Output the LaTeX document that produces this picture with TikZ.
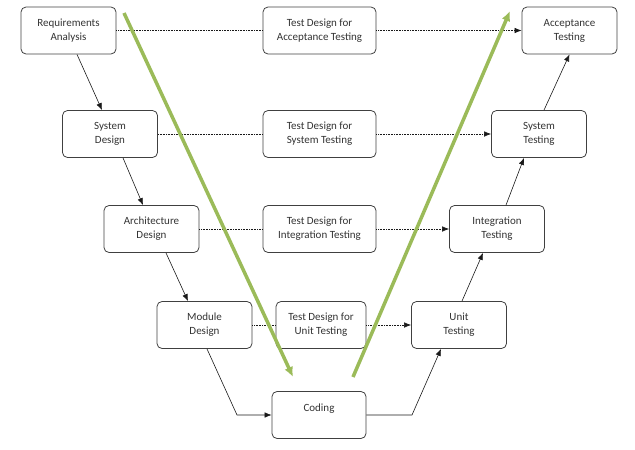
\documentclass[tikz,border=0pt]{standalone}
\usepackage{fontspec}
\setmainfont{Carlito}
\usepackage{xcolor}
\usetikzlibrary{positioning, arrows.meta}

\definecolor{vgreen}{RGB}{155,187,89}
\definecolor{boxline}{RGB}{64,64,64}

\tikzset{
    phase/.style={draw=boxline, rounded corners=5pt, thick, minimum width=95pt,
        minimum height=47pt, align=center, text=black!80,
        font=\fontsize{11}{14}\selectfont},
    testdesign/.style={phase, minimum width=113pt},
    link/.style={-{Latex[length=7pt,width=5.5pt]}, draw=black!90, semithick},
    trace/.style={densely dotted, draw=black!90, semithick},
    flow/.style={-{Latex[length=10pt,width=9pt]}, line width=3.5pt, vgreen}
}

\begin{document}
\begin{tikzpicture}[>=latex, x=1pt, y=-1pt]
    \useasboundingbox (0,0) rectangle (635,450);
    % Left side of the V
    \node[phase] (req) at (68.5,30.5) {Requirements\\Analysis};
    \node[phase] (sys) at (110,134) {System\\Design};
    \node[phase] (arch) at (151.5,229) {Architecture\\Design};
    \node[phase] (mod) at (204.5,325) {Module\\Design};
    % Bottom
    \node[phase, minimum width=94pt] (cod) at (319,415) {Coding\\\mbox{}};
    % Right side of the V
    \node[phase] (ut) at (459,325) {Unit\\Testing};
    \node[phase] (it) at (497,229) {Integration\\Testing};
    \node[phase] (st) at (539,134) {System\\Testing};
    \node[phase] (acc) at (569.5,30.5) {Acceptance\\Testing};
    % Test designs
    \node[testdesign] (tda) at (319.5,30.5) {Test Design for\\Acceptance Testing};
    \node[testdesign] (tds) at (319.5,134) {Test Design for\\System Testing};
    \node[testdesign] (tdi) at (319.5,229) {Test Design for\\Integration Testing};
    \node[phase, minimum width=90pt] (tdu) at (321,325) {Test Design for\\Unit Testing};
    % Solid links
    \draw[link] ([xshift=8.5pt]req.south) -- ([xshift=-8pt]sys.north);
    \draw[link] ([xshift=13pt]sys.south) -- ([xshift=-8.5pt]arch.north);
    \draw[link] ([xshift=14.5pt]arch.south) -- ([xshift=-16.5pt]mod.north);
    \coordinate (bl) at (237,415);
    \coordinate (br) at (412,415);
    \draw[link] ([xshift=2.5pt]mod.south) -- (bl) -- (cod.west);
    \draw[link] (cod.east) -- (br) -- ([xshift=-18pt]ut.south);
    \draw[link] ([xshift=3pt]ut.north) -- ([xshift=-14pt]it.south);
    \draw[link] ([xshift=9pt]it.north) -- ([xshift=-15pt]st.south);
    \draw[link] ([xshift=5pt]st.north) -- (acc.south);
    % Dotted links
    \draw[trace] (req) -- (tda);
    \draw[trace, -{Latex[length=7pt,width=5.5pt]}] (tda) -- (acc);
    \draw[trace] (sys) -- (tds);
    \draw[trace, -{Latex[length=7pt,width=5.5pt]}] (tds) -- (st);
    \draw[trace] (arch) -- (tdi);
    \draw[trace, -{Latex[length=7pt,width=5.5pt]}] (tdi) -- (it);
    \draw[trace] (mod) -- (tdu);
    \draw[trace, -{Latex[length=7pt,width=5.5pt]}] (tdu) -- (ut);
    % Green arrows
    \coordinate (g1s) at (124,13);
    \coordinate (g1e) at (293,377);
    \coordinate (g2s) at (353,377);
    \coordinate (g2e) at (510,11);
    \draw[flow] (g1s) -- (g1e);
    \draw[flow] (g2s) -- (g2e);
\end{tikzpicture}
\end{document}
